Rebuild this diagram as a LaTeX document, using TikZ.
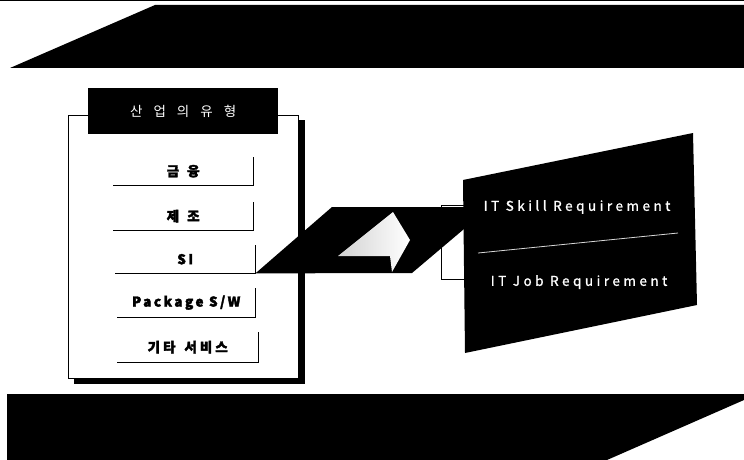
\documentclass[tikz,border=0pt]{standalone}
\usepackage{fontspec}
\newfontfamily\kr{Noto Sans CJK KR}
\newfontfamily\krb[LetterSpace=18,FakeBold=2.5]{Noto Sans CJK KR}
\newfontfamily\ensp[LetterSpace=26,FakeBold=1.2]{Noto Sans CJK KR}
\begin{document}
\begin{tikzpicture}[x=1pt,y=-1pt,
  band/.style={fill=black},
  item/.style={minimum width=140pt, minimum height=28pt, inner sep=0pt, anchor=north west,
    font=\krb\bfseries\fontsize{13.5}{15}\selectfont},
  itemline/.style={line width=1pt},
  paneltext/.style={text=white, font=\ensp\fontsize{13.5}{15}\selectfont}]
\useasboundingbox (0,0) rectangle (744,460);
% top line and bands
\draw[line width=1pt] (0,1) -- (744,1);
\fill[band] (10,68) -- (155,5) -- (744,5) -- (744,68) -- cycle;
\fill[band] (7,394) -- (744,394) -- (744,400) -- (607,460) -- (7,460) -- cycle;
% left panel
\fill (74,120) rectangle (305,384);
\node[draw=black, fill=white, line width=0.8pt, minimum width=230pt, minimum height=263pt,
  inner sep=0pt, anchor=north west] (frame) at (68,115) {};
\node[fill=black, text=white, minimum width=190pt, minimum height=46pt, inner sep=0pt,
  anchor=north west, font=\kr\fontsize{13.5}{15}\selectfont] (title) at (88,88)
  {산\hspace{11pt}업\hspace{11pt}의\hspace{11pt}유\hspace{11pt}형};
\node[item] (i1) at (113,157) {금\hspace{8pt}융};
\node[item] (i2) at (113,202) {제\hspace{8pt}조};
\node[item] (i3) at (115,245) {SI};
\node[item, minimum height=29pt, minimum width=138pt] (i4) at (117,288) {Package S/W};
\node[item, minimum height=30pt, minimum width=141pt, xshift=-3pt] (i5) at (120,332)
  {기\hspace{3pt}타\hspace{9pt}서\hspace{3pt}비\hspace{3pt}스};
\foreach \n in {i1,i2,i3,i4,i5}
  \draw[itemline] (\n.south west) -- (\n.south east) -- (\n.north east);
% connector box behind
\draw[fill=white, line width=1pt] (441,205) rectangle (470,279);
% parallelogram
\fill (i3.south east) -- (332,207) -- (490,207) -- (412,273) -- cycle;
\shade[left color=gray!35, right color=white] (338,256) -- (390,256) -- (392,272) -- (410,240) -- (393,212) -- cycle;
% right panel
\fill (463,180) -- (693,133) -- (697,305) -- (465,353) -- cycle;
\draw[gray!30, line width=0.8pt] (478,253) -- (678,233);
\node[paneltext] (skill) at (577,207) {IT Skill Requirement};
\node[paneltext] (job) at (579,282) {IT Job Requirement};
\end{tikzpicture}
\end{document}
